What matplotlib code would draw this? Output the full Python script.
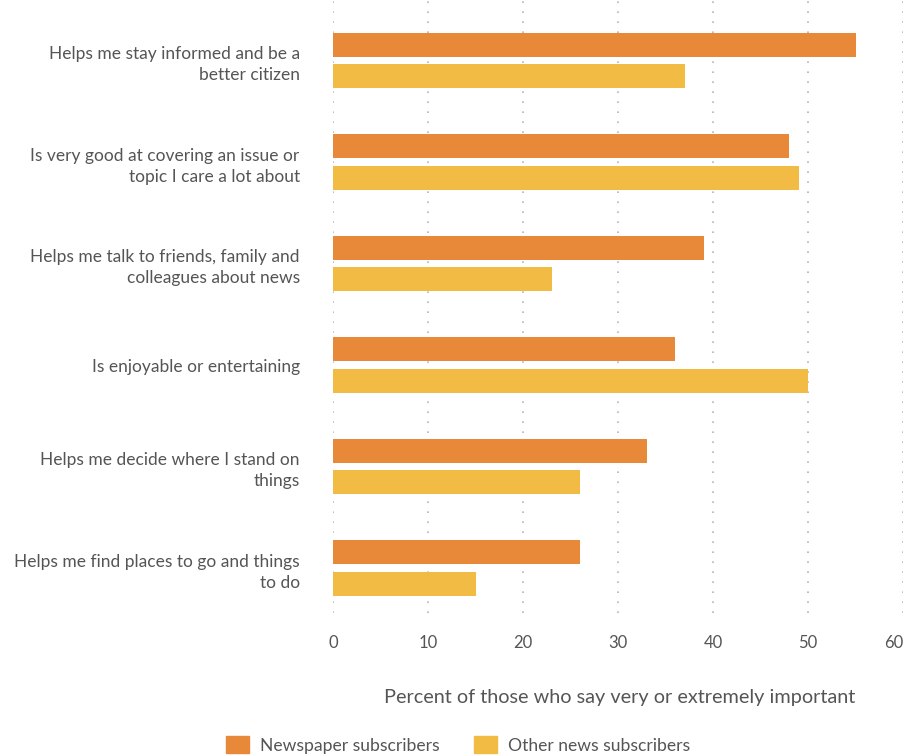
import matplotlib
matplotlib.use("Agg")
import matplotlib.pyplot as plt
import matplotlib.patches as mpatches
import numpy as np

categories = [
    "Helps me stay informed and be a\nbetter citizen",
    "Is very good at covering an issue or\ntopic I care a lot about",
    "Helps me talk to friends, family and\ncolleagues about news",
    "Is enjoyable or entertaining",
    "Helps me decide where I stand on\nthings",
    "Helps me find places to go and things\nto do",
]
newspaper = [55, 48, 39, 36, 33, 26]
other_news = [37, 49, 23, 50, 26, 15]
series_names = ["Newspaper subscribers", "Other news subscribers"]
xticks = [0, 10, 20, 30, 40, 50, 60]
xlabel = "Percent of those who say very or extremely important"

ORANGE = "#E8893A"
YELLOW = "#F2BB44"
TEXT = "#555555"
FONT = "Lato"

plt.rcParams["font.family"] = [FONT, "DejaVu Sans"]

fig = plt.figure(figsize=(9.06, 7.56), dpi=100)
ax = fig.add_axes([333 / 906, 1 - 613 / 756, 570 / 906, 613 / 756])

y = np.arange(len(categories))
h = 0.236
off = 0.156
ax.barh(y - off, newspaper, height=h, color=ORANGE, zorder=3, label=series_names[0])
ax.barh(y + off, other_news, height=h, color=YELLOW, zorder=3, label=series_names[1])

ax.set_xlim(0, 60)
ax.set_ylim(5.443, -0.596)
ax.set_xticks(xticks)
ax.set_yticks(y)
ax.set_yticklabels(categories, fontsize=12.5, color=TEXT, linespacing=1.42, ha="right")
ax.tick_params(axis="y", length=0, pad=24)
ax.tick_params(axis="x", length=0, pad=16, labelsize=12, labelcolor=TEXT)
ax.get_xticklabels()[-1].set_ha("right")

ax.xaxis.grid(True, color="#b5b5b5", linestyle=(0, (1, 5)), linewidth=1.2, zorder=0)
ax.yaxis.grid(False)
for s in ax.spines.values():
    s.set_visible(False)

ax.set_xlabel(xlabel, fontsize=14.3, color=TEXT)
ax.xaxis.set_label_coords(0.502, -0.124)

handles = [mpatches.Patch(color=ORANGE), mpatches.Patch(color=YELLOW)]
fig.legend(handles, series_names, loc="center", bbox_to_anchor=(458 / 906, 1 - 745 / 756),
           ncol=2, frameon=False, fontsize=12.6, labelcolor=TEXT,
           handlelength=1.3, handleheight=1.1, handletextpad=0.6, columnspacing=2.0)

fig.savefig("out.png", dpi=100)
